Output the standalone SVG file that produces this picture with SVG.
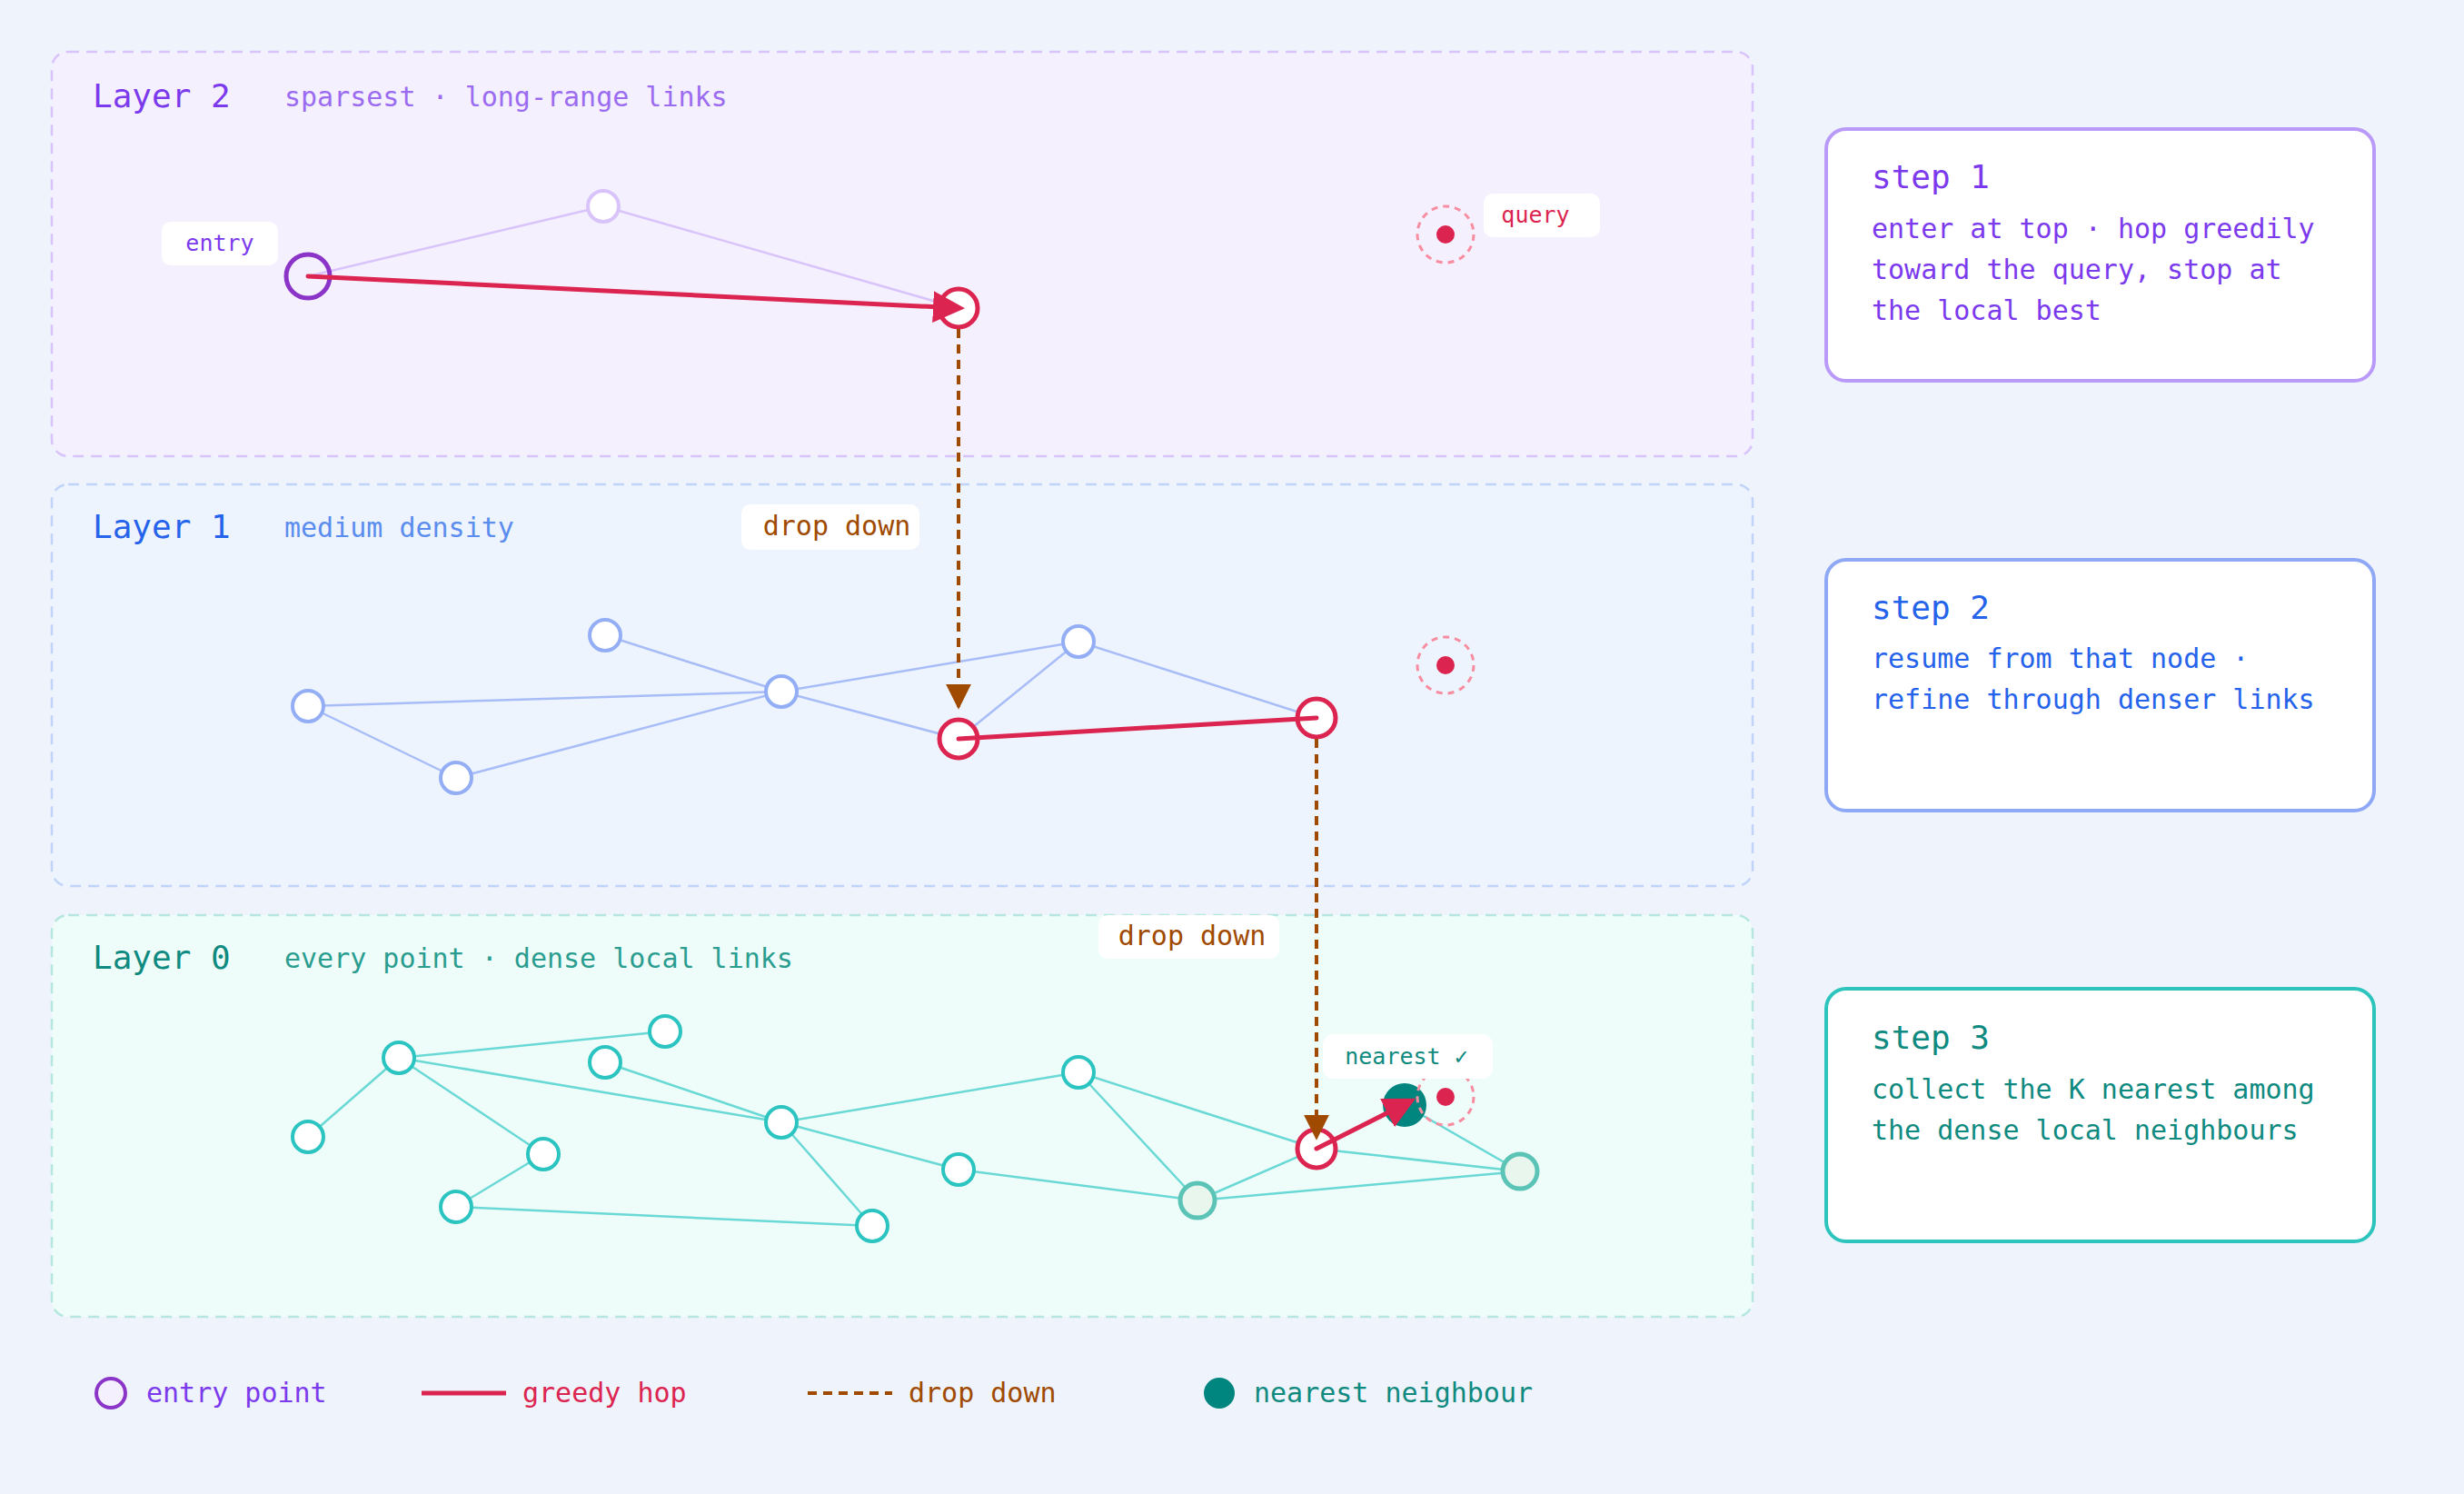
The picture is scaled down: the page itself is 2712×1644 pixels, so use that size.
<svg xmlns="http://www.w3.org/2000/svg" width="2712" height="1644" viewBox="0 0 2712 1644">
<defs>
<marker id="ar" viewBox="0 0 10 10" refX="8" refY="5" markerWidth="7" markerHeight="7" orient="auto" markerUnits="strokeWidth"><path d="M0,0L10,5L0,10z" fill="#dc2450"/></marker>
<marker id="ad" viewBox="0 0 10 10" refX="9" refY="5" markerWidth="7" markerHeight="7" orient="auto" markerUnits="strokeWidth"><path d="M0,0L10,5L0,10z" fill="#a04a00"/></marker>
<style>
text{font-family:"DejaVu Sans Mono","Liberation Mono",monospace}
.t{font-size:36px}.s{font-size:30px}.lb{font-size:25px}
.e2{stroke:#d8c4fa;stroke-width:2.5}.e1{stroke:#a8bdf7;stroke-width:2.5}.e0{stroke:#6ad9d6;stroke-width:2.5}
.n2{fill:#fff;stroke:#d8c4fa;stroke-width:4}.n1{fill:#fff;stroke:#93aef5;stroke-width:4}.n0{fill:#fff;stroke:#2cc4c0;stroke-width:4}
.rn{fill:#fff;stroke:#dc2450;stroke-width:5}
.hop{stroke:#dc2450;stroke-width:5;stroke-linecap:round;fill:none}
.drop{stroke:#a04a00;stroke-width:4;stroke-dasharray:10 7;fill:none}
.q{fill:none;stroke:#f78da0;stroke-width:3;stroke-dasharray:7 6}
.lbl{fill:#fff}
</style>
</defs>
<rect width="2712" height="1644" fill="#eff3fb"/>
<g id="layer2"><rect x="57" y="57" width="1872" height="445" rx="18" fill="#f5f0fe" stroke="#d8c4fa" stroke-width="2.5" stroke-dasharray="12 8"/>
<text x="102" y="118" class="t" fill="#7c3aed">Layer 2</text><text x="313" y="117" class="s" fill="#9b6cf0">sparsest · long-range links</text></g>
<g id="layer1"><rect x="57" y="533" width="1872" height="442" rx="18" fill="#eef4fe" stroke="#c0d4fa" stroke-width="2.5" stroke-dasharray="12 8"/>
<text x="102" y="592" class="t" fill="#2563eb">Layer 1</text><text x="313" y="591" class="s" fill="#5b8def">medium density</text></g>
<g id="layer0"><rect x="57" y="1007" width="1872" height="442" rx="18" fill="#effdfa" stroke="#b5e6df" stroke-width="2.5" stroke-dasharray="12 8"/>
<text x="102" y="1066" class="t" fill="#0f8a80">Layer 0</text><text x="313" y="1065" class="s" fill="#2a9d90">every point · dense local links</text></g>

<g id="edges">
<line class="e2" x1="339" y1="304" x2="664" y2="227"/><line class="e2" x1="664" y1="227" x2="1055" y2="339"/>
<line class="e1" x1="339" y1="777" x2="860" y2="761"/><line class="e1" x1="339" y1="777" x2="502" y2="856"/><line class="e1" x1="502" y1="856" x2="860" y2="761"/><line class="e1" x1="666" y1="699" x2="860" y2="761"/><line class="e1" x1="860" y1="761" x2="1055" y2="813"/><line class="e1" x1="860" y1="761" x2="1187" y2="706"/><line class="e1" x1="1055" y1="813" x2="1187" y2="706"/><line class="e1" x1="1187" y1="706" x2="1449" y2="790"/>
<line class="e0" x1="439" y1="1164" x2="339" y2="1251"/><line class="e0" x1="439" y1="1164" x2="732" y2="1135"/><line class="e0" x1="439" y1="1164" x2="860" y2="1235"/><line class="e0" x1="439" y1="1164" x2="598" y2="1270"/><line class="e0" x1="598" y1="1270" x2="502" y2="1328"/><line class="e0" x1="502" y1="1328" x2="960" y2="1349"/><line class="e0" x1="666" y1="1169" x2="860" y2="1235"/><line class="e0" x1="860" y1="1235" x2="960" y2="1349"/><line class="e0" x1="860" y1="1235" x2="1187" y2="1180"/><line class="e0" x1="860" y1="1235" x2="1055" y2="1287"/><line class="e0" x1="1055" y1="1287" x2="1318" y2="1321"/><line class="e0" x1="1187" y1="1180" x2="1318" y2="1321"/><line class="e0" x1="1187" y1="1180" x2="1449" y2="1264"/><line class="e0" x1="1318" y1="1321" x2="1449" y2="1264"/><line class="e0" x1="1318" y1="1321" x2="1673" y2="1289"/><line class="e0" x1="1449" y1="1264" x2="1673" y2="1289"/><line class="e0" x1="1546" y1="1216" x2="1673" y2="1289"/>
</g>

<g id="nodes2">
<circle class="n2" cx="664" cy="227" r="17"/>
<circle cx="339" cy="304" r="24" fill="none" stroke="#8b34c8" stroke-width="5"/>
<circle class="rn" cx="1055" cy="339" r="21"/>
<circle class="q" cx="1591" cy="258" r="31"/><circle cx="1591" cy="258" r="10" fill="#dc2450"/>
<rect class="lbl" x="178" y="244" width="128" height="48" rx="10"/><text x="242" y="276" class="lb" fill="#7c3aed" text-anchor="middle">entry</text>
<rect class="lbl" x="1633" y="213" width="128" height="48" rx="10"/><text x="1690" y="245" class="lb" fill="#dc2450" text-anchor="middle">query</text>
</g>
<g id="nodes1">
<circle class="n1" cx="339" cy="777" r="17"/><circle class="n1" cx="502" cy="856" r="17"/><circle class="n1" cx="666" cy="699" r="17"/><circle class="n1" cx="860" cy="761" r="17"/><circle class="n1" cx="1187" cy="706" r="17"/>
<circle class="rn" cx="1055" cy="813" r="21"/><circle class="rn" cx="1449" cy="790" r="21"/>
<circle class="q" cx="1591" cy="732" r="31"/><circle cx="1591" cy="732" r="10" fill="#dc2450"/>
</g>
<g id="nodes0">
<circle class="n0" cx="439" cy="1164" r="17"/><circle class="n0" cx="339" cy="1251" r="17"/><circle class="n0" cx="732" cy="1135" r="17"/><circle class="n0" cx="666" cy="1169" r="17"/><circle class="n0" cx="598" cy="1270" r="17"/><circle class="n0" cx="502" cy="1328" r="17"/><circle class="n0" cx="860" cy="1235" r="17"/><circle class="n0" cx="960" cy="1349" r="17"/><circle class="n0" cx="1055" cy="1287" r="17"/><circle class="n0" cx="1187" cy="1180" r="17"/>
<circle cx="1318" cy="1321" r="19" fill="#e8f6ee" stroke="#5cc4b6" stroke-width="5"/><circle cx="1673" cy="1289" r="19" fill="#e8f6ee" stroke="#5cc4b6" stroke-width="5"/>
<circle cx="1546" cy="1216" r="24" fill="#00857f"/>
<circle class="q" cx="1591" cy="1207" r="31"/><circle cx="1591" cy="1207" r="10" fill="#dc2450"/>
<circle class="rn" cx="1449" cy="1264" r="21"/>
</g>

<g id="connectors">
<line class="hop" x1="339" y1="304" x2="1055" y2="339" marker-end="url(#ar)"/>
<line class="hop" x1="1055" y1="813" x2="1449" y2="790"/>
<line class="hop" x1="1449" y1="1264" x2="1552" y2="1212" marker-end="url(#ar)"/>
<line class="drop" x1="1055" y1="362" x2="1055" y2="778" marker-end="url(#ad)"/>
<line class="drop" x1="1449" y1="813" x2="1449" y2="1252" marker-end="url(#ad)"/>
</g>
<g id="droplabels">
<rect class="lbl" x="816" y="555" width="196" height="50" rx="10"/><text x="921" y="589" class="s" fill="#a04a00" text-anchor="middle">drop down</text>
<rect class="lbl" x="1209" y="1007" width="199" height="48" rx="10"/><text x="1312" y="1040" class="s" fill="#a04a00" text-anchor="middle">drop down</text>
<rect class="lbl" x="1456" y="1138" width="187" height="49" rx="12"/><text x="1548" y="1171" class="lb" fill="#0f8a80" text-anchor="middle">nearest ✓</text>
</g>

<g id="step1"><rect x="2010" y="142" width="603" height="277" rx="22" fill="#fff" stroke="#b99af8" stroke-width="4"/>
<text x="2060" y="207" class="t" fill="#7c3aed">step 1</text>
<text class="s" fill="#7c3aed"><tspan x="2060" y="262">enter at top · hop greedily</tspan><tspan x="2060" y="307">toward the query, stop at</tspan><tspan x="2060" y="352">the local best</tspan></text></g>
<g id="step2"><rect x="2010" y="616" width="603" height="276" rx="22" fill="#fff" stroke="#8ea8f5" stroke-width="4"/>
<text x="2060" y="681" class="t" fill="#2563eb">step 2</text>
<text class="s" fill="#2563eb"><tspan x="2060" y="735">resume from that node ·</tspan><tspan x="2060" y="780">refine through denser links</tspan></text></g>
<g id="step3"><rect x="2010" y="1088" width="603" height="278" rx="22" fill="#fff" stroke="#2cc4bc" stroke-width="4"/>
<text x="2060" y="1154" class="t" fill="#0f8a80">step 3</text>
<text class="s" fill="#0f8a80"><tspan x="2060" y="1209">collect the K nearest among</tspan><tspan x="2060" y="1254">the dense local neighbours</tspan></text></g>

<g id="legend">
<circle cx="122" cy="1533" r="16" fill="#f5f0fe" stroke="#8b34c8" stroke-width="4"/><text x="161" y="1543" class="s" fill="#7c3aed">entry point</text>
<line x1="464" y1="1533" x2="557" y2="1533" stroke="#dc2450" stroke-width="5"/><text x="575" y="1543" class="s" fill="#dc2450">greedy hop</text>
<line x1="889" y1="1533" x2="982" y2="1533" class="drop"/><text x="1000" y="1543" class="s" fill="#a04a00">drop down</text>
<circle cx="1342" cy="1533" r="17" fill="#00857f"/><text x="1380" y="1543" class="s" fill="#0f8a80">nearest neighbour</text>
</g>
</svg>
